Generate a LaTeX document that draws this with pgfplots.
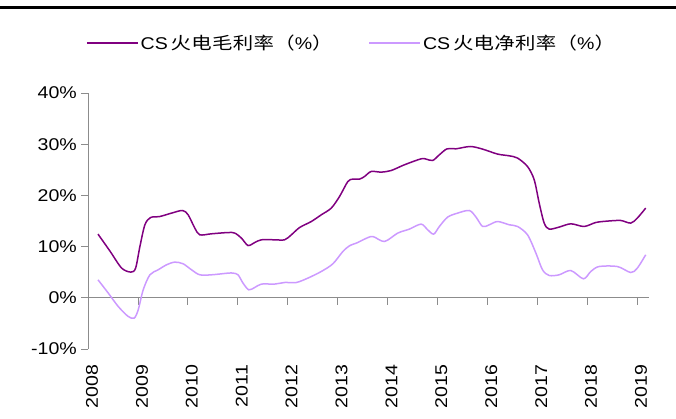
\documentclass[border=0pt]{standalone}
\usepackage{pgfplots}
\pgfplotsset{compat=1.18}
\usepackage{fontspec}
\setmainfont{Liberation Sans}[FakeStretch=1.15]
\newfontfamily\cjk{Noto Sans CJK SC}[FakeStretch=1.2, LetterSpace=2]
\newcommand\fs{\fontsize{17bp}{20bp}\selectfont}
\definecolor{gross}{HTML}{800080}
\definecolor{net}{HTML}{CC99FF}
\definecolor{axgray}{HTML}{8C8C8C}
\begin{document}
\begin{tikzpicture}
\path[use as bounding box] (0,0) rectangle (676bp,419bp);
\draw[line width=3bp] (0,411bp) -- (676bp,411bp);
\begin{axis}[
  at={(88bp,70bp)}, anchor=south west,
  scale only axis, width=561bp, height=256bp,
  xmin=2008, xmax=2019.24, ymin=-10, ymax=40,
  axis x line=middle, axis y line=left,
  hide obscured x ticks=false,
  axis line style={-, axgray, line width=0.8bp},
  tick style={axgray, line width=0.8bp},
  major tick length=7bp, tick align=outside,
  xtick={2008,...,2019},
  xticklabels={2008,2009,2010,2011,2012,2013,2014,2015,2016,2017,2018,2019},
  ytick={-10,0,10,20,30,40},
  yticklabels={-10\%,0\%,10\%,20\%,30\%,40\%},
  xticklabel style={font=\fs, inner sep=0pt, yshift=-60bp, xshift=4bp, rotate=90, anchor=east},
  yticklabel style={font=\fs, inner sep=0pt, xshift=-4bp},
  legend columns=2,
  legend style={at={(axis description cs:-0.0036,1.195)}, anchor=west, draw=none, fill=none,
    font=\fs, inner sep=0pt, /tikz/every even column/.append style={column sep=34bp}},
  legend cell align=left,
  legend image code/.code={\draw[#1] (0bp,0bp) -- (51bp,0bp);},
]
\addplot[gross, line width=1.5bp, smooth, tension=0.5] coordinates {
(2008.200,12.44) (2008.446,9.04) (2008.674,5.80) (2008.860,5.02) (2008.954,5.80)
(2009.040,10.02) (2009.140,14.26) (2009.254,15.68) (2009.440,15.88) (2009.674,16.54)
(2009.894,17.05) (2010.006,16.21) (2010.140,13.61) (2010.240,12.30) (2010.474,12.50)
(2010.806,12.75) (2010.940,12.64) (2011.074,11.66) (2011.206,10.21) (2011.340,10.80)
(2011.474,11.33) (2011.740,11.33) (2011.940,11.33) (2012.074,12.30) (2012.240,13.73)
(2012.474,14.90) (2012.674,16.21) (2012.874,17.52) (2013.040,19.79) (2013.206,22.71)
(2013.306,23.18) (2013.440,23.18) (2013.540,23.69) (2013.674,24.67) (2013.874,24.55)
(2014.074,24.86) (2014.340,25.98) (2014.674,27.15) (2014.774,27.09) (2014.906,26.82)
(2015.040,27.93) (2015.194,29.10) (2015.374,29.10) (2015.660,29.55) (2015.906,29.04)
(2016.206,28.07) (2016.440,27.73) (2016.606,27.29) (2016.806,25.64) (2016.940,23.05)
(2017.040,18.50) (2017.140,14.59) (2017.240,13.42) (2017.440,13.81) (2017.674,14.45)
(2017.940,13.93) (2018.174,14.71) (2018.406,14.98) (2018.674,15.10) (2018.874,14.59)
(2019.006,15.57) (2019.174,17.52)
};
\addlegendentry{CS\,{\cjk 火电毛利率（}\%{\cjk ）}}
\addplot[net, line width=1.5bp, smooth, tension=0.5] coordinates {
(2008.200,3.52) (2008.406,0.92) (2008.606,-1.70) (2008.806,-3.65) (2008.926,-3.96)
(2009.006,-2.34) (2009.106,1.56) (2009.240,4.49) (2009.406,5.47) (2009.574,6.45)
(2009.740,6.97) (2009.906,6.64) (2010.074,5.47) (2010.240,4.49) (2010.474,4.49)
(2010.806,4.82) (2010.906,4.82) (2011.006,4.49) (2011.106,2.87) (2011.220,1.56)
(2011.340,2.01) (2011.474,2.68) (2011.740,2.68) (2011.940,2.99) (2012.174,2.99)
(2012.406,3.85) (2012.674,5.14) (2012.906,6.64) (2013.106,9.04) (2013.240,10.16)
(2013.406,10.80) (2013.540,11.46) (2013.706,11.97) (2013.940,11.00) (2014.206,12.64)
(2014.440,13.42) (2014.674,14.39) (2014.806,13.28) (2014.926,12.44) (2015.040,13.93)
(2015.206,15.76) (2015.406,16.54) (2015.640,17.05) (2015.774,15.76) (2015.906,13.93)
(2016.040,14.26) (2016.206,14.90) (2016.440,14.26) (2016.606,13.93) (2016.806,12.30)
(2016.974,8.73) (2017.106,5.47) (2017.240,4.36) (2017.440,4.49) (2017.674,5.33)
(2017.926,3.71) (2018.074,5.14) (2018.240,6.11) (2018.606,6.11) (2018.874,4.94)
(2019.006,5.80) (2019.174,8.40)
};
\addlegendentry{CS\,{\cjk 火电净利率（}\%{\cjk ）}}
\end{axis}
\end{tikzpicture}
\end{document}
